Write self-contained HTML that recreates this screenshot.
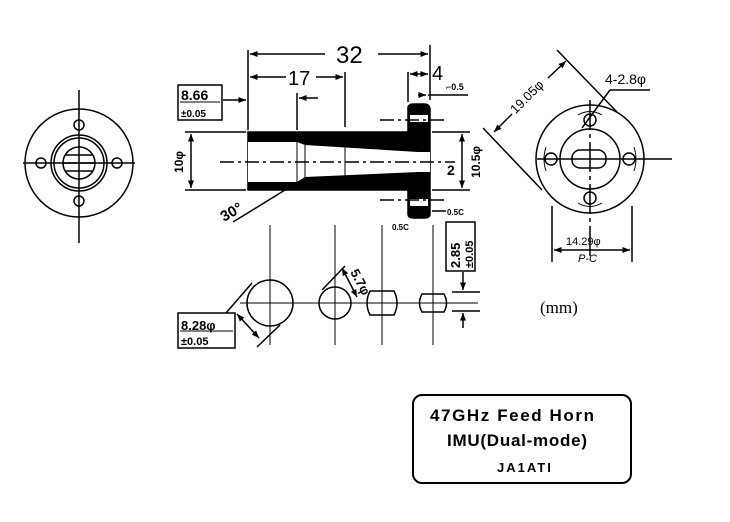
<!DOCTYPE html>
<html><head><style>body{margin:0;background:#fff}svg{display:block}</style></head>
<body>
<svg width="730" height="522" viewBox="0 0 730 522" xmlns="http://www.w3.org/2000/svg" font-family="Liberation Sans, sans-serif">
<defs>
<marker id="a" viewBox="0 0 10 10" refX="10" refY="5" markerWidth="7" markerHeight="5" orient="auto-start-reverse"><path d="M0,1 L10,5 L0,9z" fill="#000"/></marker>
</defs>
<g fill="none" stroke="#000" stroke-width="1.5">
<!-- left view -->
<circle cx="79" cy="163" r="54"/>
<circle cx="79" cy="163" r="28"/>
<circle cx="79" cy="163" r="25"/>
<circle cx="79" cy="163" r="16"/>
<line x1="65" y1="155" x2="93" y2="155"/><line x1="63" y1="163" x2="95" y2="163"/><line x1="65" y1="171" x2="93" y2="171"/>
<line x1="79" y1="90" x2="79" y2="243"/><line x1="23" y1="163" x2="135" y2="163"/>
<circle cx="79" cy="125" r="5"/><circle cx="79" cy="201" r="5"/><circle cx="41" cy="163" r="5"/><circle cx="117" cy="163" r="5"/>
<!-- main body -->
<path d="M248,132 H408 V108 Q408,104 414,104 H424 Q430,104 430,110 V214 Q430,218 424,218 H414 Q408,218 408,214 V190 H248 Z" fill="#000"/>
<path d="M248,142 H297 L305,145 L418,152 V172 L305,177 L297,182 H248 Z" fill="#fff" stroke="none"/>
<rect x="418" y="152" width="12" height="20" fill="#fff" stroke="none"/>
<rect x="410" y="115" width="18" height="7" fill="#fff" stroke="none"/>
<rect x="410" y="199" width="18" height="7" fill="#fff" stroke="none"/>
<line x1="297" y1="142" x2="297" y2="182" stroke-width="1"/><line x1="305" y1="145" x2="305" y2="177" stroke-width="1"/>
<line x1="345" y1="143" x2="345" y2="180" stroke-width="1"/>
<line x1="220" y1="162" x2="455" y2="162" stroke-dasharray="14,4,3,4"/>
<line x1="380" y1="120" x2="445" y2="120" stroke-dasharray="14,4,3,4"/>
<line x1="380" y1="200" x2="445" y2="200" stroke-dasharray="14,4,3,4"/>
<!-- dims -->
<line x1="248" y1="50" x2="248" y2="130"/><line x1="430" y1="45" x2="430" y2="100"/>
<line x1="250" y1="54" x2="325" y2="54" marker-start="url(#a)"/><line x1="378" y1="54" x2="428" y2="54" marker-end="url(#a)"/>
<line x1="345" y1="72" x2="345" y2="127"/>
<line x1="250" y1="77" x2="286" y2="77" marker-start="url(#a)"/><line x1="316" y1="77" x2="343" y2="77" marker-end="url(#a)"/>
<line x1="297" y1="93" x2="297" y2="130"/><line x1="318" y1="98" x2="299" y2="98" marker-end="url(#a)"/>
<line x1="223" y1="100" x2="246" y2="100" marker-end="url(#a)"/>
<line x1="408" y1="72" x2="408" y2="102"/>
<line x1="410" y1="74" x2="428" y2="74" marker-start="url(#a)" marker-end="url(#a)"/>
<line x1="428" y1="95" x2="468" y2="95"/><line x1="418" y1="95" x2="426" y2="95" marker-end="url(#a)"/>
<line x1="185" y1="132" x2="246" y2="132"/><line x1="185" y1="190" x2="246" y2="190"/>
<line x1="191" y1="134" x2="191" y2="188" marker-start="url(#a)" marker-end="url(#a)"/>
<line x1="432" y1="132" x2="470" y2="132"/><line x1="432" y1="190" x2="470" y2="190"/>
<line x1="462" y1="134" x2="462" y2="188" marker-start="url(#a)" marker-end="url(#a)"/>
<line x1="233" y1="222" x2="285" y2="190"/>
<line x1="432" y1="211" x2="446" y2="211"/>
<!-- lower section -->
<line x1="270" y1="225" x2="270" y2="345" stroke-width="1"/><line x1="335" y1="225" x2="335" y2="345" stroke-width="1"/>
<line x1="382" y1="225" x2="382" y2="345" stroke-width="1"/><line x1="433" y1="225" x2="433" y2="345" stroke-width="1"/>
<line x1="240" y1="303" x2="478" y2="303" stroke-width="1"/>
<circle cx="270" cy="303" r="23"/><circle cx="335" cy="303" r="16"/>
<path d="M370,291 H394 Q400,303 394,315 H370 Q364,303 370,291Z"/>
<path d="M422,294 H444 Q449,303 444,312 H422 Q417,303 422,294Z"/>
<line x1="452" y1="292" x2="480" y2="292"/><line x1="452" y1="311" x2="480" y2="311"/>
<line x1="463" y1="272" x2="463" y2="290" marker-end="url(#a)"/><line x1="463" y1="328" x2="463" y2="313" marker-end="url(#a)"/>
<line x1="226" y1="313" x2="252" y2="283"/><line x1="257" y1="347" x2="280" y2="325"/>
<line x1="237" y1="314" x2="259" y2="338" marker-start="url(#a)" marker-end="url(#a)"/>
<line x1="322" y1="290" x2="345" y2="266"/><line x1="342" y1="268" x2="357" y2="297" marker-start="url(#a)" marker-end="url(#a)"/>
<rect x="178" y="313" width="57" height="35"/>
<rect x="446" y="222" width="29" height="49"/>
<rect x="178" y="85" width="44" height="35"/>
<line x1="180" y1="102" x2="220" y2="102" stroke-width="1"/>
<line x1="180" y1="331" x2="233" y2="331" stroke-width="1"/>
<!-- right view -->
<circle cx="590" cy="159" r="54"/><circle cx="590" cy="159" r="30"/>
<rect x="572" y="150" width="34" height="18" rx="8"/>
<line x1="537" y1="159" x2="672" y2="159"/><line x1="590" y1="100" x2="590" y2="257" stroke-dasharray="30,4,4,4"/>
<circle cx="590" cy="120" r="6"/><circle cx="590" cy="198" r="6"/><circle cx="551" cy="159" r="6"/><circle cx="629" cy="159" r="6"/>
<path d="M578,115 Q590,108 602,115 M578,203 Q590,210 602,203 M546,147 Q542,159 546,171 M634,147 Q638,159 634,171" stroke-width="1"/>
<line x1="552" y1="206" x2="552" y2="262"/><line x1="632" y1="206" x2="632" y2="262"/>
<line x1="554" y1="250" x2="630" y2="250" marker-start="url(#a)" marker-end="url(#a)"/>
<line x1="483" y1="128" x2="542" y2="190"/><line x1="557" y1="50" x2="617" y2="112"/>
<line x1="494" y1="132" x2="512" y2="114" marker-start="url(#a)"/>
<line x1="548" y1="78" x2="566" y2="61" marker-end="url(#a)"/>
<line x1="582" y1="128" x2="610" y2="90"/><line x1="610" y1="90" x2="650" y2="90"/>
<!-- title box -->
<rect x="413" y="395" width="218" height="88" rx="9" stroke-width="2"/>
</g>
<g fill="#000" font-weight="bold">
<text x="336" y="63" font-size="24" font-weight="normal">32</text>
<text x="288" y="85" font-size="20" font-weight="normal">17</text>
<text x="432" y="80" font-size="20" font-weight="normal">4</text>
<text x="181" y="100" font-size="14">8.66</text>
<text x="181" y="117" font-size="10">±0.05</text>
<text x="446" y="90" font-size="9">⌐0.5</text>
<text x="447" y="175" font-size="14">2</text>
<text x="447" y="215" font-size="8">0.5C</text>
<text x="392" y="230" font-size="8">0.5C</text>
<text transform="translate(183,162) rotate(-90)" text-anchor="middle" font-size="12">10φ</text>
<text transform="translate(480,162) rotate(-90)" text-anchor="middle" font-size="12">10.5φ</text>
<text transform="translate(224,222) rotate(-30)" font-size="15">30°</text>
<text x="181" y="330" font-size="13">8.28φ</text>
<text x="181" y="345" font-size="11">±0.05</text>
<text transform="translate(460,268) rotate(-90)" font-size="13">2.85</text>
<text transform="translate(473,268) rotate(-90)" font-size="11">±0.05</text>
<text transform="translate(350,272) rotate(62)" font-size="13">5.7φ</text>
<text transform="translate(530,100) rotate(-45)" text-anchor="middle" font-size="13" font-weight="normal">19.05φ</text>
<text x="605" y="84" font-size="14" font-weight="normal">4-2.8φ</text>
<text x="566" y="245" font-size="11" font-weight="normal">14.29φ</text>
<text x="578" y="262" font-size="11" font-weight="normal" font-style="italic">P-C</text>
<text x="540" y="313" font-size="17" font-weight="normal" font-family="Liberation Serif, serif">(mm)</text>
<text x="430" y="421" font-size="17" textLength="164">47GHz  Feed  Horn</text>
<text x="447" y="446" font-size="17" textLength="140">IMU(Dual-mode)</text>
<text x="497" y="472" font-size="13" letter-spacing="2">JA1ATI</text>
</g>
</svg>
</body></html>
